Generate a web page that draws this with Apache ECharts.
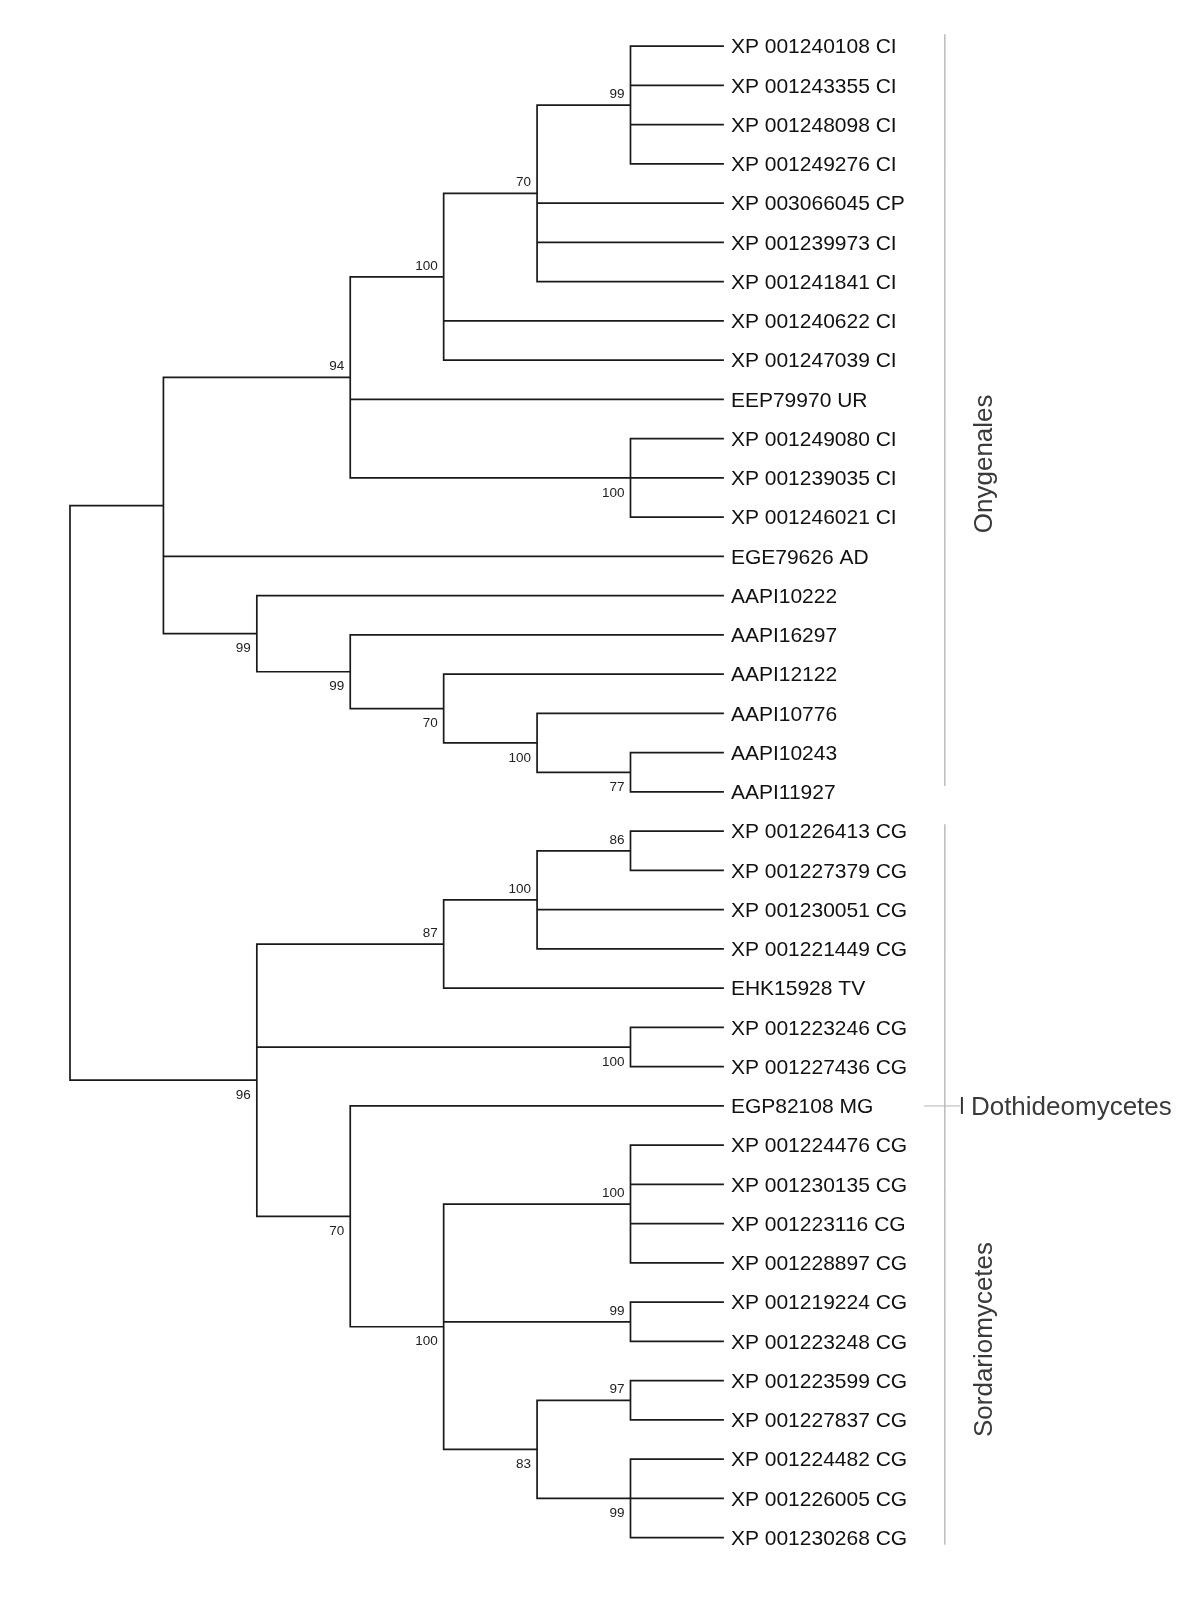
<!DOCTYPE html>
<html><head><meta charset="utf-8">
<script src="https://cdn.jsdelivr.net/npm/echarts@6/dist/echarts.min.js"></script>
<style>html,body{margin:0;padding:0;background:#fff}#c{width:1200px;height:1610px}</style>
</head><body><div id="c"></div>
<script>
// ---------- DATA ----------
const leaves = [
  "XP 001240108 CI","XP 001243355 CI","XP 001248098 CI","XP 001249276 CI","XP 003066045 CP",
  "XP 001239973 CI","XP 001241841 CI","XP 001240622 CI","XP 001247039 CI","EEP79970 UR",
  "XP 001249080 CI","XP 001239035 CI","XP 001246021 CI","EGE79626 AD","AAPI10222",
  "AAPI16297","AAPI12122","AAPI10776","AAPI10243","AAPI11927",
  "XP 001226413 CG","XP 001227379 CG","XP 001230051 CG","XP 001221449 CG","EHK15928 TV",
  "XP 001223246 CG","XP 001227436 CG","EGP82108 MG","XP 001224476 CG","XP 001230135 CG",
  "XP 001223116 CG","XP 001228897 CG","XP 001219224 CG","XP 001223248 CG","XP 001223599 CG",
  "XP 001227837 CG","XP 001224482 CG","XP 001226005 CG","XP 001230268 CG"
];
// topology (leaf indices) with bootstrap support values after each clade
const newick = "((((((0,1,2,3)99,4,5,6)70,7,8)100,9,(10,11,12)100)94,13,(14,(15,(16,(17,(18,19)77)100)70)99)99)," +
               "((((20,21)86,22,23)100,24)87,(25,26)100,(27,((28,29,30,31)100,(32,33)99,((34,35)97,(36,37,38)99)83)100)70)96)";
const cladeNames = ["Onygenales","Sordariomycetes","Dothideomycetes"];
const cladeFirst = [0, 20, 27];
const cladeLast  = [19, 38, 27];

// ---------- STYLE / PLACEMENT ----------
const supportSide = "aaababbbbb" + "aaabaaabbbbb"; // a = above branch, b = below (in newick order)
const cladeTextCenter = [10.64, 32.95, 27];          // vertical centre of clade text, in leaf rows
const FONT = '"Liberation Sans", Arial, sans-serif';

// ---------- PARSE & LAYOUT ----------
function parse(s){
  let i = 0;
  function node(){
    if (s[i] === '('){
      i++; const ch = [node()];
      while (s[i] === ','){ i++; ch.push(node()); }
      i++;
      let lab = ''; while (i < s.length && /[0-9]/.test(s[i])) lab += s[i++];
      return {children: ch, support: lab};
    }
    let lab = ''; while (/[0-9]/.test(s[i])) lab += s[i++];
    return {leaf: +lab};
  }
  return node();
}
const root = parse(newick);
function height(n){ return n.children ? 1 + Math.max(...n.children.map(height)) : 0; }
const H = height(root);
const internal = [];
let supIdx = 0;
function layout(n){
  if (!n.children){ n.x = H; n.y = n.leaf; return; }
  n.children.forEach(layout);
  n.x = H - height(n);
  n.y = (n.children[0].y + n.children[n.children.length-1].y) / 2;
  if (n.support){ n.side = supportSide[supIdx++]; }
  internal.push(n);
}
layout(root);

const nodeData = internal.map((n, k) => [n.x, n.y, k]);
const leafData = leaves.map((name, i) => [H, i, i]);
const cladeData = cladeNames.map((nm, k) => [cladeFirst[k], cladeLast[k], k]);

const chart = echarts.init(document.getElementById('c'), null, {renderer: 'canvas'});
const LINE = {stroke: '#1a1a1a', lineWidth: 1.7, fill: null, lineJoin: 'miter'};

chart.setOption({
  backgroundColor: '#fff',
  animation: false,
  grid: {left: 70, top: 46.2, width: 653.9, height: 1491.5},
  xAxis: {type: 'value', min: 0, max: H, show: false},
  yAxis: {type: 'value', min: 0, max: leaves.length - 1, inverse: true, show: false},
  series: [
    {
      type: 'custom', data: nodeData, silent: true,
      renderItem: function(params, api){
        const n = internal[api.value(2)];
        const ch = n.children;
        const first = ch[0], last = ch[ch.length-1];
        const p = api.coord([n.x, n.y]);
        const els = [];
        const pts = [api.coord([first.x, first.y]), api.coord([n.x, first.y]),
                     api.coord([n.x, last.y]), api.coord([last.x, last.y])];
        els.push({type: 'polyline', shape: {points: pts}, style: LINE});
        for (let j = 1; j < ch.length - 1; j++){
          const c = ch[j];
          els.push({type: 'polyline', shape: {points: [api.coord([n.x, c.y]), api.coord([c.x, c.y])]}, style: LINE});
        }
        if (n.support){
          els.push({type: 'text', x: p[0] - 6, y: p[1] + (n.side === 'a' ? -11 : 15),
            style: {text: n.support, align: 'right', verticalAlign: 'middle',
                    font: '13.5px ' + FONT, fill: '#222'}});
        }
        return {type: 'group', children: els};
      }
    },
    {
      type: 'custom', data: leafData, silent: true,
      renderItem: function(params, api){
        const p = api.coord([api.value(0), api.value(1)]);
        return {type: 'text', x: p[0] + 7, y: p[1] + 1.5,
          style: {text: leaves[api.value(2)], align: 'left', verticalAlign: 'middle',
                  font: '21px ' + FONT, fill: '#111'}};
      }
    },
    {
      type: 'custom', data: cladeData, silent: true,
      renderItem: function(params, api){
        const k = api.value(2);
        const a = api.coord([H, api.value(0)]);
        const b = api.coord([H, api.value(1)]);
        const tc = api.coord([H, cladeTextCenter[k]]);
        const barX = a[0] + 221;
        if (api.value(0) === api.value(1)){
          return {type: 'group', children: [
            {type: 'line', shape: {x1: barX - 21, y1: a[1], x2: barX + 15, y2: a[1]}, style: {stroke: '#b5b5b5', lineWidth: 1}},
            {type: 'line', shape: {x1: barX + 17, y1: a[1] - 9, x2: barX + 17, y2: a[1] + 8}, style: {stroke: '#333', lineWidth: 2}},
            {type: 'text', x: barX + 26, y: tc[1] + 2,
              style: {text: cladeNames[k], align: 'left', verticalAlign: 'middle', font: '26px ' + FONT, fill: '#3a3a3a'}}
          ]};
        }
        return {type: 'group', children: [
          {type: 'line', shape: {x1: barX, y1: a[1] - (k === 0 ? 12 : 7), x2: barX, y2: b[1] + (k === 0 ? -6 : 7)},
            style: {stroke: '#9a9a9a', lineWidth: 1}},
          {type: 'text', x: barX + 39.5, y: tc[1], rotation: Math.PI / 2,
            style: {text: cladeNames[k], align: 'center', verticalAlign: 'middle', font: '26px ' + FONT, fill: '#3a3a3a'}}
        ]};
      }
    }
  ]
});
</script></body></html>
